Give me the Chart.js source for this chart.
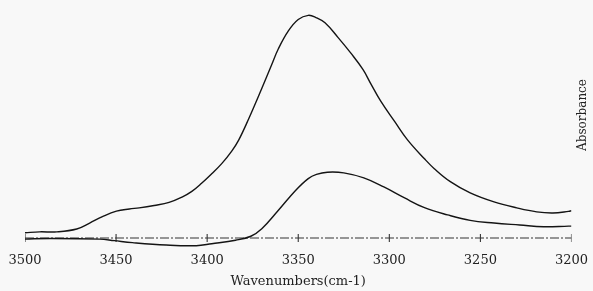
<!DOCTYPE html>
<html>
<head>
<meta charset="utf-8">
<script src="https://cdn.jsdelivr.net/npm/chart.js@4/dist/chart.umd.min.js"></script>
<style>
  html, body { margin: 0; padding: 0; background: #f8f8f8; }
  #wrap { width: 593px; height: 291px; position: relative; }
</style>
</head>
<body>
<div id="wrap"><canvas id="c"></canvas></div>
<script>
// ---- Data (wavenumber cm-1, absorbance in arbitrary units) ----
const upperWavenumbers = [3500, 3492, 3482.5, 3471.6, 3464.5, 3457.5, 3449.8, 3442.7, 3437.3, 3429.1, 3420.9, 3413.8, 3408.4, 3402.9, 3397.5, 3392, 3386.5, 3382.7, 3377.3, 3370.2, 3364.7, 3360.9, 3355.5, 3350, 3344.5, 3340.2, 3335.3, 3328.2, 3321.1, 3314.5, 3310.2, 3304.7, 3297.1, 3290, 3280.7, 3275.3, 3266.5, 3255.6, 3242.5, 3230, 3219.1, 3210.2, 3201.6, 3200];
const upperAbsorbance  = [0.024, 0.028, 0.028, 0.041, 0.068, 0.097, 0.122, 0.132, 0.137, 0.148, 0.162, 0.186, 0.212, 0.250, 0.292, 0.338, 0.395, 0.445, 0.540, 0.676, 0.785, 0.860, 0.940, 0.993, 1.012, 1.002, 0.978, 0.912, 0.840, 0.766, 0.702, 0.622, 0.530, 0.446, 0.360, 0.315, 0.256, 0.205, 0.164, 0.137, 0.119, 0.114, 0.121, 0.124];

const lowerWavenumbers = [3500, 3486.4, 3459, 3451, 3441, 3422.5, 3406, 3397.5, 3384.4, 3376, 3370, 3361, 3351.6, 3344.5, 3340, 3334, 3325, 3314, 3303, 3291.6, 3280.7, 3268, 3255.6, 3242.5, 3228.4, 3215.3, 3201.6, 3200];
const lowerAbsorbance  = [-0.005, -0.002, -0.005, -0.012, -0.021, -0.032, -0.035, -0.026, -0.010, 0.008, 0.042, 0.125, 0.215, 0.270, 0.289, 0.299, 0.296, 0.273, 0.232, 0.182, 0.138, 0.105, 0.080, 0.068, 0.059, 0.051, 0.054, 0.054];

const baselineWavenumbers = [3500, 3200];
const baselineAbsorbance  = [0, 0];

const tickValues = [3500, 3450, 3400, 3350, 3300, 3250, 3200];

const xTitle = 'Wavenumbers(cm-1)';
const yTitle = 'Absorbance';

// ---- Build datasets ----
const pts = (xs, ys) => xs.map((x, i) => ({ x: x, y: ys[i] }));

const inkColor = '#141414';
const textColor = '#222222';

const yTitlePlugin = {
  id: 'yTitleRight',
  afterDraw(chart) {
    const ctx = chart.ctx;
    ctx.save();
    ctx.fillStyle = textColor;
    ctx.font = '12px "DejaVu Serif"';
    ctx.textAlign = 'center';
    ctx.textBaseline = 'middle';
    ctx.translate(chart.width - 10, chart.chartArea.top + 110);
    ctx.rotate(-Math.PI / 2);
    ctx.fillText(yTitle, 0, 0);
    ctx.restore();
  }
};

new Chart(document.getElementById('c'), {
  type: 'line',
  data: {
    datasets: [
      {
        label: 'upper',
        data: pts(upperWavenumbers, upperAbsorbance),
        borderColor: inkColor,
        borderWidth: 1.4,
        pointRadius: 0,
        fill: false,
        tension: 0.4
      },
      {
        label: 'lower',
        data: pts(lowerWavenumbers, lowerAbsorbance),
        borderColor: inkColor,
        borderWidth: 1.4,
        pointRadius: 0,
        fill: false,
        tension: 0.4
      },
      {
        label: 'baseline',
        data: pts(baselineWavenumbers, baselineAbsorbance),
        borderColor: '#333333',
        borderWidth: 1,
        borderDash: [9, 2, 2, 2],
        pointRadius: 0,
        fill: false
      },
      {
        label: 'ticks',
        type: 'scatter',
        data: tickValues.map(v => ({ x: v, y: 0 })),
        showLine: false,
        pointStyle: 'line',
        rotation: 90,
        radius: 4,
        borderColor: '#222222',
        borderWidth: 1
      }
    ]
  },
  options: {
    responsive: true,
    maintainAspectRatio: false,
    animation: false,
    events: [],
    layout: { padding: { left: 25, right: 18, top: 5, bottom: 0 } },
    plugins: {
      legend: { display: false },
      tooltip: { enabled: false }
    },
    scales: {
      x: {
        type: 'linear',
        min: 3200,
        max: 3500,
        reverse: true,
        grid: { display: false, drawTicks: false },
        border: { display: false },
        ticks: {
          stepSize: 50,
          padding: 5,
          color: textColor,
          font: { family: '"DejaVu Serif"', size: 13 },
          callback: v => String(v)
        },
        title: {
          display: true,
          text: xTitle,
          color: textColor,
          font: { family: '"DejaVu Serif"', size: 13 },
          padding: { top: 0, bottom: 2 }
        }
      },
      y: {
        display: false,
        min: -0.0445,
        max: 1.059
      }
    }
  },
  plugins: [yTitlePlugin]
});
</script>
</body>
</html>
